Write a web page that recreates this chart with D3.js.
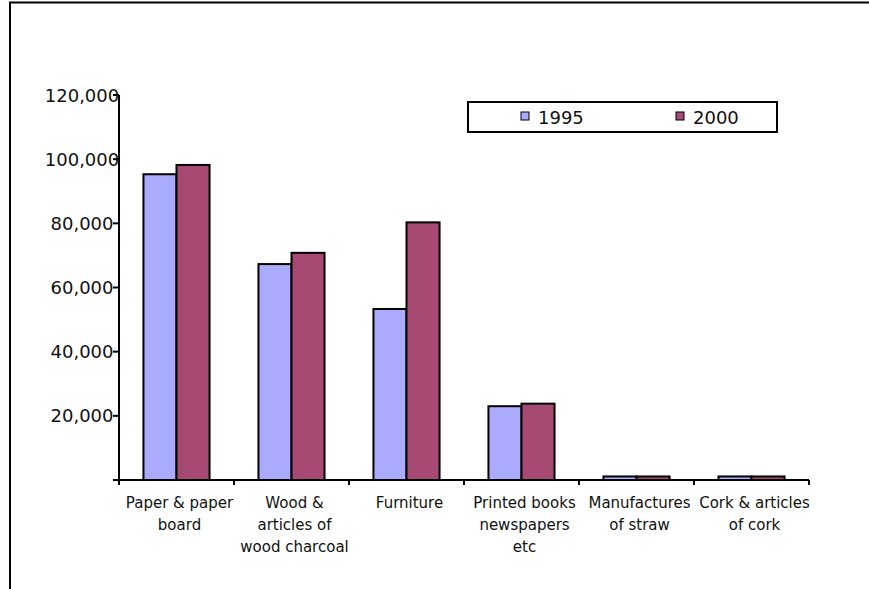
<!DOCTYPE html>
<html>
<head>
<meta charset="utf-8">
<script src="https://cdn.jsdelivr.net/npm/d3@7"></script>
<style>
  html, body { margin: 0; padding: 0; background: #fff; }
  svg { display: block; font-family: "DejaVu Sans", Verdana, sans-serif; }
</style>
</head>
<body>
<svg id="chart" width="869" height="589"></svg>
<script>
// Exports by product group (value), 1995 vs 2000
const categories = [
  ["Paper & paper", "board"],
  ["Wood &", "articles of", "wood charcoal"],
  ["Furniture"],
  ["Printed books", "newspapers", "etc"],
  ["Manufactures", "of straw"],
  ["Cork & articles", "of cork"]
];
const seriesNames = ["1995", "2000"];
const values1995 = [95300, 67300, 53300, 23000, 1100, 1100];
const values2000 = [98200, 70800, 80300, 23800, 1100, 1100];
const yTicks = [20000, 40000, 60000, 80000, 100000, 120000];
const colors = ["#aaaaff", "#a64a74"];

const svg = d3.select("#chart");

// Outer frame (runs off the right and bottom edges)
svg.append("rect")
  .attr("x", 10).attr("y", 2.5)
  .attr("width", 900).attr("height", 620)
  .attr("fill", "none").attr("stroke", "#000").attr("stroke-width", 2);

const plotLeft = 119, plotRight = 809, plotTop = 95, plotBottom = 480;

const x = d3.scaleBand()
  .domain(d3.range(categories.length))
  .range([plotLeft, plotRight])
  .paddingInner(0).paddingOuter(0);

const x1 = d3.scaleBand()
  .domain(seriesNames)
  .range([0, x.bandwidth()])
  .paddingInner(0)
  .paddingOuter(0.74);

const y = d3.scaleLinear().domain([0, 120000]).range([plotBottom, plotTop]);

// Bars
const series = [values1995, values2000];
const groups = svg.append("g").selectAll("g")
  .data(categories.map((c, i) => i))
  .join("g")
  .attr("transform", i => `translate(${x(i)},0)`);

groups.selectAll("rect")
  .data(i => seriesNames.map((s, k) => ({ s, k, v: series[k][i] })))
  .join("rect")
  .attr("x", d => x1(d.s))
  .attr("y", d => y(d.v))
  .attr("width", x1.bandwidth())
  .attr("height", d => y(0) - y(d.v))
  .attr("fill", d => colors[d.k])
  .attr("stroke", "#000")
  .attr("stroke-width", 2);

// Y axis
const yAxis = svg.append("g").attr("transform", `translate(${plotLeft},0)`);
yAxis.append("line")
  .attr("x1", 0).attr("x2", 0).attr("y1", plotTop).attr("y2", plotBottom + 4)
  .attr("stroke", "#000").attr("stroke-width", 2);
yAxis.selectAll("line.tick")
  .data([0].concat(yTicks))
  .join("line").attr("class", "tick")
  .attr("x1", -6).attr("x2", 0)
  .attr("y1", d => y(d)).attr("y2", d => y(d))
  .attr("stroke", "#000").attr("stroke-width", 2);
yAxis.selectAll("text")
  .data(yTicks)
  .join("text")
  .attr("x", -37)
  .attr("y", d => y(d) + 6.5)
  .attr("text-anchor", "middle")
  .attr("font-size", 18)
  .attr("fill", "#111")
  .text(d => d3.format(",")(d));

// X axis
svg.append("line")
  .attr("x1", plotLeft - 6).attr("x2", plotRight)
  .attr("y1", plotBottom).attr("y2", plotBottom)
  .attr("stroke", "#000").attr("stroke-width", 2);
svg.append("g").selectAll("line")
  .data(d3.range(categories.length + 1))
  .join("line")
  .attr("x1", i => plotLeft + i * x.bandwidth())
  .attr("x2", i => plotLeft + i * x.bandwidth())
  .attr("y1", plotBottom).attr("y2", plotBottom + 5)
  .attr("stroke", "#000").attr("stroke-width", 2);

// Category labels
const labels = svg.append("g").selectAll("text")
  .data(categories)
  .join("text")
  .attr("text-anchor", "middle")
  .attr("font-size", 15)
  .attr("fill", "#111")
  .attr("transform", (c, i) => `translate(${x(i) + x.bandwidth() / 2 + 3},${plotBottom + 28})`);
labels.selectAll("tspan")
  .data(c => c)
  .join("tspan")
  .attr("x", 0)
  .attr("y", (t, j) => j * 22)
  .text(t => t);

// Legend
const legend = svg.append("g");
legend.append("rect")
  .attr("x", 468).attr("y", 102).attr("width", 309).attr("height", 30)
  .attr("fill", "#fff").attr("stroke", "#000").attr("stroke-width", 2);
const legendX = [521, 676];
seriesNames.forEach((s, k) => {
  legend.append("rect")
    .attr("x", legendX[k]).attr("y", 112)
    .attr("width", 8).attr("height", 8)
    .attr("fill", colors[k]).attr("stroke", "#000").attr("stroke-width", 1);
  legend.append("text")
    .attr("x", legendX[k] + 17).attr("y", 124)
    .attr("font-size", 18).attr("fill", "#111")
    .text(s);
});
</script>
</body>
</html>
